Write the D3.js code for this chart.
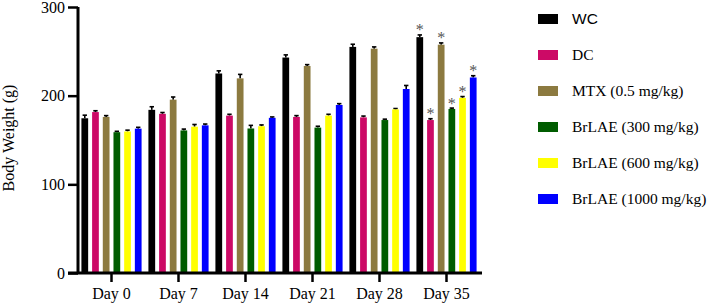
<!DOCTYPE html>
<html>
<head>
<meta charset="utf-8">
<script src="https://cdn.jsdelivr.net/npm/d3@7"></script>
<style>
  body { margin: 0; background: #fff; }
  svg text { font-family: "Liberation Serif", "Times New Roman", serif; }
</style>
</head>
<body>
<script>
const days = ["Day 0", "Day 7", "Day 14", "Day 21", "Day 28", "Day 35"];
const groups = ["WC", "DC", "MTX (0.5 mg/kg)", "BrLAE (300 mg/kg)", "BrLAE (600 mg/kg)", "BrLAE (1000 mg/kg)"];
const colors = ["#000000", "#cc0a66", "#8c7a40", "#005c00", "#ffff00", "#0000ff"];

// mean body weight per group, one value per day
const wc     = [174.5, 184, 225, 243, 255, 266];
const dc     = [181.5, 179.5, 177.5, 176, 175.5, 172.5];
const mtx    = [176, 195.5, 219.5, 233.5, 253, 257.5];
const br300  = [158.8, 160.8, 163, 164, 172.5, 185];
const br600  = [159.6, 165, 165.5, 177.5, 184.5, 197.5];
const br1000 = [162.8, 166.5, 175, 189.5, 207.5, 220.5];

// SEM per group
const wcErr     = [3.5, 3.5, 3, 3, 3, 2.5];
const dcErr     = [1.5, 1.5, 1.5, 1.5, 1.5, 1.5];
const mtxErr    = [1.5, 3, 4.5, 1.5, 2, 2];
const br300Err  = [1, 1.5, 3.5, 1.5, 1, 1];
const br600Err  = [1.5, 2.5, 1.5, 1.5, 1, 1.5];
const br1000Err = [1.5, 1.5, 1, 1.5, 4, 2];

const yTicks = [0, 100, 200, 300];
const sigDay = "Day 35";   // all groups marked * on this day

const series = [wc, dc, mtx, br300, br600, br1000];
const errors = [wcErr, dcErr, mtxErr, br300Err, br600Err, br1000Err];

const W = 709, H = 305;
const svg = d3.select("body").append("svg")
  .attr("width", W).attr("height", H);

const x = d3.scaleBand().domain(days).range([78, 480]);
const xi = d3.scaleBand().domain(groups).range([0, x.bandwidth()])
  .paddingInner(0.37).paddingOuter(0.32);
const y = d3.scaleLinear().domain([0, 300]).range([273, 7]);

const rows = [];
days.forEach((day, di) => {
  groups.forEach((g, gi) => {
    rows.push({day, g, gi, v: series[gi][di], e: errors[gi][di]});
  });
});

// error bars (upper only) behind bars
const eb = svg.append("g").attr("stroke", "#000").attr("stroke-width", 1.6);
rows.forEach(d => {
  const cx = x(d.day) + xi(d.g) + xi.bandwidth() / 2;
  eb.append("line").attr("x1", cx).attr("x2", cx)
    .attr("y1", y(d.v)).attr("y2", y(d.v + d.e));
  eb.append("line").attr("x1", cx - 2.2).attr("x2", cx + 2.2)
    .attr("y1", y(d.v + d.e)).attr("y2", y(d.v + d.e));
});

svg.append("g").selectAll("rect")
  .data(rows)
  .enter()
  .append("rect")
  .attr("x", d => x(d.day) + xi(d.g))
  .attr("y", d => y(d.v))
  .attr("width", xi.bandwidth())
  .attr("height", d => y(0) - y(d.v))
  .attr("fill", d => colors[d.gi]);

// significance stars
svg.append("g").selectAll("text")
  .data(rows.filter(d => d.day === sigDay))
  .enter()
  .append("text")
  .attr("x", d => x(d.day) + xi(d.g) + xi.bandwidth() / 2)
  .attr("y", d => y(d.v + d.e) + 0.5)
  .attr("text-anchor", "middle")
  .attr("fill", "#555")
  .style("font-size", "16px")
  .text("*");

// y axis
const yAxis = svg.append("g")
  .attr("transform", "translate(78,0)")
  .call(d3.axisLeft(y).tickValues(yTicks).tickSize(10).tickPadding(3));
yAxis.select(".domain").attr("stroke-width", 3).attr("d", `M0,${y(300)}V${y(0)}`);
yAxis.selectAll(".tick line").attr("stroke-width", 2.5);
yAxis.selectAll(".tick text").style("font-size", "16px")
  .style("font-family", "Liberation Serif, serif").attr("fill", "#000");

// x axis
const xAxis = svg.append("g")
  .attr("transform", `translate(0,${y(0)})`)
  .call(d3.axisBottom(x).tickSize(9).tickPadding(6));
xAxis.select(".domain").attr("stroke-width", 3).attr("d", "M68,0H482");
xAxis.selectAll(".tick line").attr("stroke-width", 2.5);
xAxis.selectAll(".tick text").style("font-size", "16px")
  .style("font-family", "Liberation Serif, serif").attr("fill", "#000");

svg.append("text")
  .attr("transform", "translate(14,138) rotate(-90)")
  .attr("text-anchor", "middle")
  .style("font-size", "16px")
  .text("Body Weight (g)");

// legend
const lg = svg.append("g").attr("transform", "translate(538,19)");
groups.forEach((g, i) => {
  const row = lg.append("g").attr("transform", `translate(0,${i * 36})`);
  row.append("rect").attr("x", 0).attr("y", -5).attr("width", 20).attr("height", 10)
    .attr("fill", colors[i]);
  row.append("text").attr("x", 34).attr("y", 0).attr("dy", "0.35em")
    .style("font-size", "15.5px")
    .style("font-family", i === 0 ? "Liberation Sans, Arial, sans-serif" : null)
    .text(g);
});
</script>
</body>
</html>
